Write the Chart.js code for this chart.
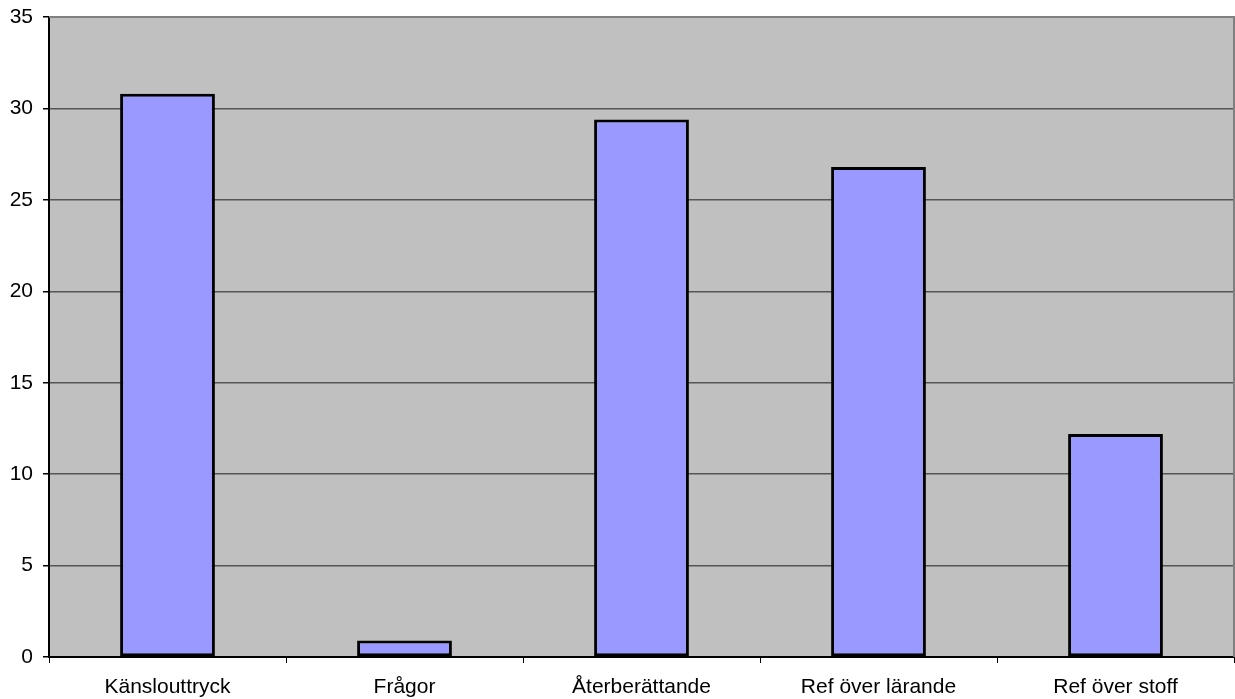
<!DOCTYPE html>
<html lang="sv">
<head>
  <meta charset="UTF-8" />
  <title>Stapeldiagram</title>
  <script src="https://cdn.jsdelivr.net/npm/chart.js"></script>
  <style>
    html, body { margin: 0; padding: 0; background: #fff; }
    #wrap { width: 1235px; height: 699px; }
  </style>
</head>
<body>
  <div id="wrap"><canvas id="chart"></canvas></div>
  <script>
    // data
    const categories = ['Känslouttryck', 'Frågor', 'Återberättande', 'Ref över lärande', 'Ref över stoff'];
    const values = [30.8, 0.9, 29.4, 26.8, 12.2];
    const yMax = 35;
    const yStep = 5;

    // grey plot background + grey top/right frame
    const plotFrame = {
      id: 'plotFrame',
      beforeDraw(chart) {
        const { ctx, chartArea: a } = chart;
        ctx.save();
        ctx.fillStyle = '#c0c0c0';
        ctx.fillRect(a.left, a.top, a.right - a.left, a.bottom - a.top);
        ctx.restore();
      },
      afterDatasetsDraw(chart) {
        const { ctx, chartArea: a } = chart;
        ctx.save();
        ctx.strokeStyle = '#808080';
        ctx.lineWidth = 2;
        ctx.beginPath();
        ctx.moveTo(a.left, a.top);
        ctx.lineTo(a.right, a.top);
        ctx.lineTo(a.right, a.bottom);
        ctx.stroke();
        ctx.restore();
      }
    };

    const font = { family: 'Liberation Sans, Arial', size: 21 };

    new Chart(document.getElementById('chart'), {
      type: 'bar',
      data: {
        labels: categories,
        datasets: [{
          data: values,
          backgroundColor: '#9999ff',
          borderColor: '#000',
          borderWidth: 3,
          borderSkipped: false,
          barPercentage: 0.4,
          categoryPercentage: 1
        }]
      },
      options: {
        responsive: true,
        maintainAspectRatio: false,
        animation: false,
        layout: { padding: { top: 17, right: 1, left: 0, bottom: 0 } },
        plugins: { legend: { display: false }, tooltip: { enabled: false } },
        scales: {
          x: {
            afterFit(axis) { axis.height = 42; },
            grid: { drawOnChartArea: false, drawTicks: true, tickLength: 6, tickColor: '#000', offset: true },
            border: { color: '#000', width: 2 },
            ticks: { color: '#000', padding: 12, font, maxRotation: 0 }
          },
          y: {
            min: 0,
            max: yMax,
            afterFit(axis) { axis.width = 49; axis.paddingTop = 0; axis.paddingBottom = 0; },
            grid: {
              color: (c) => (c.tick && c.tick.value === yMax ? '#808080' : '#555'),
              lineWidth: 1.5,
              tickLength: 6,
              tickColor: '#000'
            },
            border: { color: '#000', width: 2 },
            ticks: { stepSize: yStep, color: '#000', padding: 10, font: { ...font, lineHeight: 0.5 } }
          }
        }
      },
      plugins: [plotFrame]
    });
  </script>
</body>
</html>
